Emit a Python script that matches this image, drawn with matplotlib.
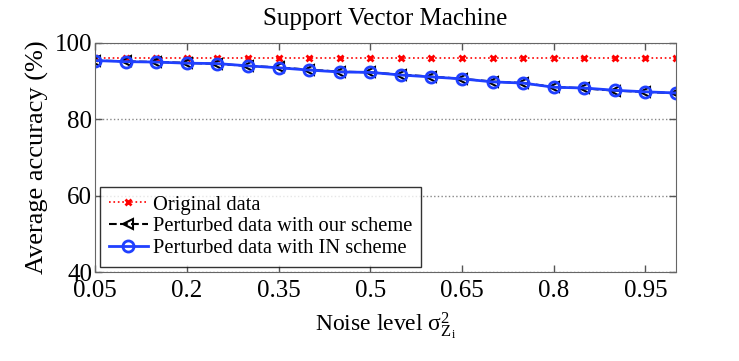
import matplotlib
matplotlib.use("Agg")
import matplotlib.pyplot as plt
import numpy as np

noise = [0.05, 0.10, 0.15, 0.20, 0.25, 0.30, 0.35, 0.40, 0.45, 0.50,
         0.55, 0.60, 0.65, 0.70, 0.75, 0.80, 0.85, 0.90, 0.95, 1.00]
original = [96.1] * 20
ours = [95.4, 95.2, 95.0, 94.8, 94.5, 94.0, 93.6, 93.0, 92.5, 92.3,
        91.7, 91.2, 90.6, 89.9, 89.5, 88.5, 88.1, 87.5, 87.2, 86.8]
in_scheme = [95.4, 95.1, 95.0, 94.7, 94.6, 94.0, 93.5, 92.9, 92.4, 92.3,
             91.6, 91.1, 90.6, 89.8, 89.5, 88.4, 88.2, 87.6, 87.2, 86.9]
xticks = [0.05, 0.2, 0.35, 0.5, 0.65, 0.8, 0.95]
xtick_labels = ["0.05", "0.2", "0.35", "0.5", "0.65", "0.8", "0.95"]
yticks = [40, 60, 80, 100]

plt.rcParams['font.family'] = ['Liberation Serif', 'DejaVu Serif']
plt.rcParams['mathtext.fontset'] = 'custom'
plt.rcParams['mathtext.rm'] = 'Liberation Serif'
plt.rcParams['mathtext.it'] = 'Liberation Serif'

fig = plt.figure(figsize=(7.39, 3.61), dpi=100)
ax = fig.add_axes([0.1286, 0.2465, 0.7862, 0.6345])

ax.plot(noise, original, color='red', linestyle=':', marker='x', markersize=4.5,
        markeredgewidth=2, linewidth=1.2, label='Original data')
ax.plot(noise, ours, color='black', linestyle='--', marker='<', markersize=7.5,
        markerfacecolor='none', markeredgewidth=1.5, linewidth=1.5,
        label='Perturbed data with our scheme')
ax.plot(noise, in_scheme, color='#2040ff', linestyle='-', marker='o', markersize=8,
        markerfacecolor='none', markeredgewidth=2, linewidth=2,
        label='Perturbed data with IN scheme')

ax.set_xlim(0.05, 1.0)
ax.set_ylim(40, 100)
ax.set_xticks(xticks)
ax.set_xticklabels(xtick_labels)
ax.set_yticks(yticks)
ax.yaxis.grid(True, linestyle=':', color='#888888', linewidth=1)
ax.tick_params(direction='in', labelsize=18, length=5, top=True, right=True,
               width=1, color='#555555')
ax.tick_params(axis='x', pad=6)
ax.tick_params(axis='y', pad=2)
for s in ax.spines.values():
    s.set_color('#666666')

ax.set_title('Support Vector Machine', fontsize=18, pad=13)
ax.set_xlabel('Noise level σ$^2_{\\mathrm{Z}_\\mathrm{i}}$', fontsize=17, labelpad=6)
ax.set_ylabel('Average accuracy (%)', fontsize=19, labelpad=4)

leg = ax.legend(loc='lower left', fontsize=14.8, frameon=True, fancybox=False,
                edgecolor='black', borderpad=0.42, labelspacing=0.12,
                handlelength=1.9, handletextpad=0.25, borderaxespad=0.25)
leg.get_frame().set_linewidth(1)

fig.savefig('out.png', dpi=100)
